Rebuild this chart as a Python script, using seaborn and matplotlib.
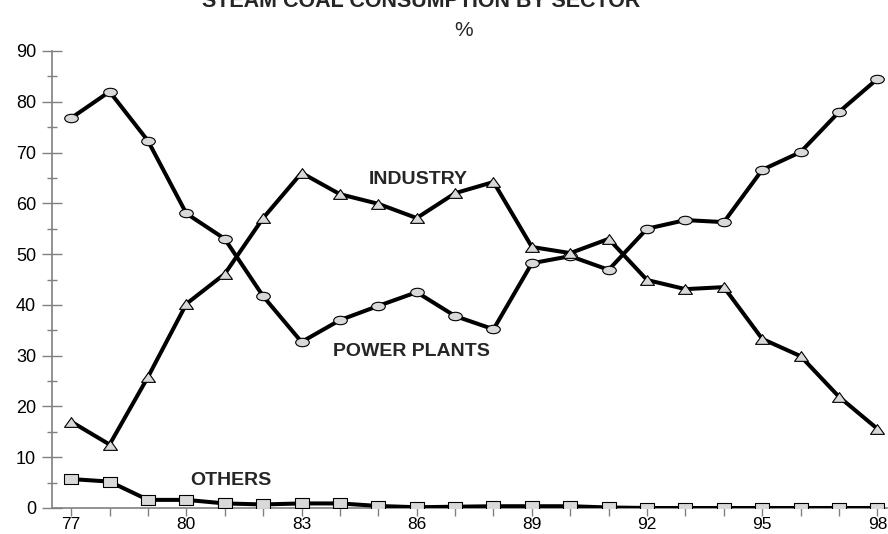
import numpy as np
import pandas as pd
import matplotlib
matplotlib.use("Agg")
import matplotlib.pyplot as plt
import seaborn as sns
from matplotlib.path import Path
from matplotlib.ticker import MultipleLocator, FixedLocator

sns.set_theme(style="white")
plt.rcParams['font.family'] = ['Liberation Sans', 'DejaVu Sans']

# dados
anos = list(range(77, 99))
power_plants = [76.8, 82.0, 72.3, 58.0, 53.0, 41.7, 32.7, 37.0, 39.8, 42.5, 37.8,
                35.2, 48.2, 49.6, 46.9, 55.0, 56.7, 56.3, 66.6, 70.1, 78.0, 84.5]
industry = [17.0, 12.5, 25.8, 40.2, 46.1, 57.1, 66.0, 61.8, 59.9, 57.1, 62.0,
            64.2, 51.4, 50.2, 53.0, 44.9, 43.1, 43.5, 33.3, 29.9, 21.9, 15.6]
others = [5.7, 5.2, 1.6, 1.6, 0.9, 0.7, 0.9, 0.9, 0.4, 0.15, 0.25,
          0.35, 0.35, 0.35, 0.1, 0.0, 0.0, 0.0, 0.0, 0.0, 0.0, 0.0]
anos_rotulo = [77, 80, 83, 86, 89, 92, 95, 98]

df = pd.DataFrame({'ano': anos, 'POWER PLANTS': power_plants,
                   'INDUSTRY': industry, 'OTHERS': others})

# marcadores achatados (elipse, triângulo, quadrado)
circ = Path.unit_circle()
elipse = Path(circ.vertices * np.array([1.0, 0.62]), circ.codes)
triangulo = Path([(-1, -0.7), (1, -0.7), (0, 0.7), (-1, -0.7)],
                 [Path.MOVETO, Path.LINETO, Path.LINETO, Path.CLOSEPOLY])
quadrado = Path([(-1, -0.73), (1, -0.73), (1, 0.73), (-1, 0.73), (-1, -0.73)],
                [Path.MOVETO, Path.LINETO, Path.LINETO, Path.LINETO, Path.CLOSEPOLY])

fig = plt.figure(figsize=(8.88, 5.34), dpi=100)
ax = fig.add_axes([52 / 888, 26 / 534, 835 / 888, 457 / 534])

series = [('POWER PLANTS', elipse, 9.8), ('INDUSTRY', triangulo, 10), ('OTHERS', quadrado, 10.5)]
for nome, mk, ms in series:
    sns.lineplot(data=df, x='ano', y=nome, ax=ax, color='black', linewidth=2.9,
                 marker=mk, markersize=ms, markerfacecolor='#d9d9d9',
                 markeredgecolor='black', markeredgewidth=0.8, zorder=3)

ax.set_xlim(76.5, 98.25)
ax.set_ylim(0, 90)
ax.xaxis.set_major_locator(FixedLocator(anos_rotulo))
ax.xaxis.set_minor_locator(FixedLocator(anos))
ax.yaxis.set_major_locator(MultipleLocator(10))
ax.yaxis.set_minor_locator(MultipleLocator(5))
ax.tick_params(axis='y', which='major', direction='inout', length=15, width=1,
               color='#808080', labelsize=13, labelcolor='black', pad=4, left=True)
ax.tick_params(axis='y', which='minor', direction='inout', length=7, width=1,
               color='#808080', left=True)
ax.tick_params(axis='x', which='both', direction='out', length=6, width=1,
               color='#808080', labelsize=12.5, labelcolor='black', pad=0.5, bottom=True)
ax.set_xticklabels([str(a) for a in anos_rotulo])

for lado in ['top', 'right']:
    ax.spines[lado].set_visible(False)
for lado in ['left', 'bottom']:
    ax.spines[lado].set_color('#808080')
    ax.spines[lado].set_linewidth(1.2)
ax.set_xlabel('')
ax.set_ylabel('')
ax.grid(False)

# rótulos das séries
ax.text(86.03, 64.6, 'INDUSTRY', fontsize=14, fontweight='bold', ha='center', va='center')
ax.text(85.85, 30.9, 'POWER PLANTS', fontsize=14, fontweight='bold', ha='center', va='center')
ax.text(81.16, 5.5, 'OTHERS', fontsize=14, fontweight='bold', ha='center', va='center')

fig.text(421 / 888, 527 / 534, 'STEAM COAL CONSUMPTION BY SECTOR', fontsize=15.5,
         fontweight='bold', ha='center', va='baseline')
fig.text(464 / 888, 504 / 534, '%', fontsize=15, ha='center', va='center')

fig.savefig('out.png', dpi=100)
